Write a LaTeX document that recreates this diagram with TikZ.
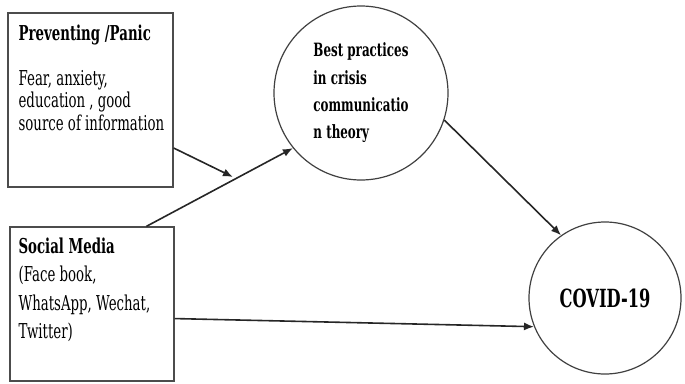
\documentclass[tikz,border=0pt]{standalone}
\usepackage{fontspec}
\setmainfont{DejaVu Serif}[FakeStretch=0.65]
\usetikzlibrary{arrows.meta}

\begin{document}
\begin{tikzpicture}[x = 1pt, y = -1pt, line width = 1.2pt,
                        box/.style = {rectangle, draw = black!70},
                        bubble/.style = {circle, draw = black!75, inner sep = 0pt, align = left},
                        txt/.style = {anchor = north west, inner sep = 0pt, align = left},
                        arr/.style = {-{Latex[length = 10pt, width = 8pt]}, line width = 1.6pt, draw = black!85}]
      \useasboundingbox (0, 0) rectangle (685, 383);
      \node [box, minimum width = 165pt, minimum height = 174pt] (b1) at (90.5, 100){};
      \node [box, minimum width = 164pt, minimum height = 154pt] (b2) at (92, 304){};
      \node [txt, font = \fontsize{20.5}{22.5}\selectfont] (t1) at (18, 24.5)
            {\textbf{Preventing /Panic}\\[22pt]Fear, anxiety,\\education , good\\source of information};
      \node [txt, font = \fontsize{20.5}{28.5}\selectfont] (t2) at (18, 237)
            {\textbf{Social Media}\\(Face book,\\WhatsApp, Wechat,\\Twitter)};
      \node [bubble, minimum size = 174pt, font = \fontsize{18.3}{27.3}\selectfont\bfseries] (c1) at (361, 93)
            {Best practices\\in crisis\\communicatio\\n theory};
      \node [bubble, minimum size = 152pt, font = \fontsize{25}{27}\selectfont\bfseries] (c2) at (605, 298){COVID-19};
      \coordinate (m) at (233, 177);
      \draw [arr] (b1.-30) -- (m);
      \draw [arr] (b2.55) -- (c1.219);
      \draw [arr] (c1.-18) -- (c2.125);
      \draw [arr] (b2.-10) -- (c2.202);
    \end{tikzpicture}
\end{document}
